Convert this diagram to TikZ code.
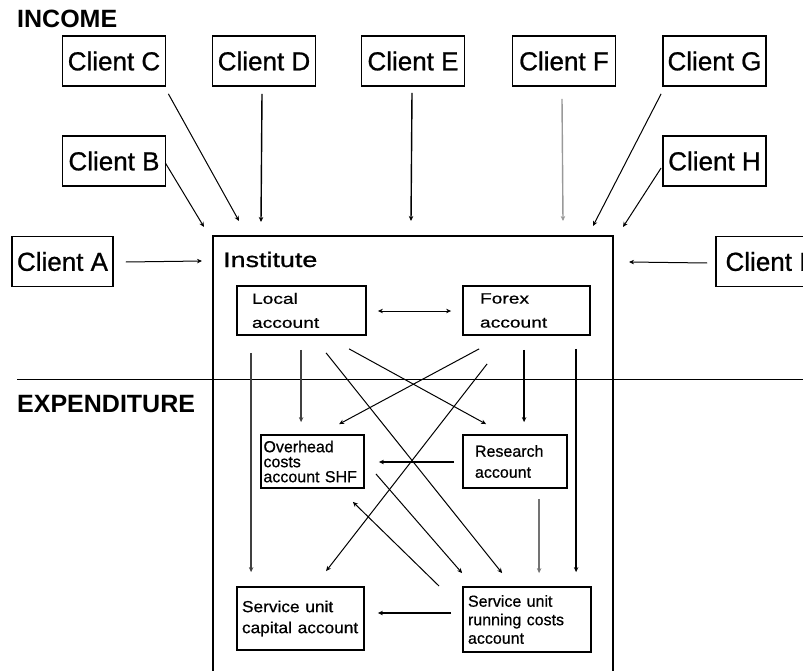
\documentclass[tikz,border=0pt]{standalone}
\usepackage{fontspec}
\setmainfont{Liberation Sans}
\newfontfamily\heavyfont{Liberation Sans}[FakeBold=0.9]
\newfontfamily\semiheavyfont{Liberation Sans}[FakeBold=0.6]
\usetikzlibrary{arrows.meta,calc}
\tikzset{
  client/.style={draw, line width=1.8pt, minimum width=103pt, minimum height=50pt,
    inner sep=0pt, font=\heavyfont\fontsize{26}{30}\selectfont},
  acct/.style={draw, line width=1.8pt, inner ysep=0pt, align=left},
  heading/.style={anchor=west, inner sep=0pt, font=\fontsize{25}{28}\selectfont\bfseries},
  arr/.style={-{Stealth[length=5pt,width=4.5pt]}, line width=1pt},
  arrthick/.style={arr, line width=1.8pt},
  arrmid/.style={arr, line width=1.4pt},
  biarr/.style={{Stealth[length=5pt,width=4.5pt]}-{Stealth[length=5pt,width=4.5pt]}, line width=1pt},
}
\newcommand{\wide}[1]{\scalebox{1.28}[1]{#1}}
\begin{document}
\begin{tikzpicture}[x=1pt,y=-1pt]
\clip (0,0) rectangle (803,671);

% section headings and divider
\node[heading] (income) at (17,19) {INCOME};
\node[heading] (expend) at (17,404.5) {EXPENDITURE};
\draw[line width=1pt] (17,379) -- (803,379);

% clients
\node[client] (C) at (114,61) {Client C};
\node[client] (D) at (264,61) {Client D};
\node[client] (E) at (413,61) {Client E};
\node[client] (F) at (564,61) {Client F};
\node[client] (G) at (714.5,61) {Client G};
\node[client] (B) at (114,161) {Client B};
\node[client] (H) at (714.5,161) {Client H};
\node[client, minimum width=101pt] (A) at (62.5,261.5) {Client A};
\node[client, minimum width=100pt] (I) at (766,261.5) {Client I};

% institute frame
\node[draw, line width=2pt, minimum width=400pt, minimum height=464pt, inner sep=0pt] (inst) at (413,468) {};
\node[anchor=west, inner sep=0pt, font=\heavyfont\fontsize{21}{25}\selectfont] (instlabel) at (223,259.5) {\wide{Institute}};

% accounts
\node[acct, minimum width=129pt, minimum height=49pt, text width=99pt, inner xsep=15pt,
      font=\semiheavyfont\fontsize{15}{24}\selectfont] (local) at (301.5,310.5) {\wide{Local}\\\wide{account}};
\node[acct, minimum width=127pt, minimum height=49pt, text width=93pt, inner xsep=17pt,
      font=\semiheavyfont\fontsize{15}{24}\selectfont] (forex) at (526.5,310.5) {\wide{Forex}\\\wide{account}};
\node[acct, minimum width=103pt, minimum height=53pt, text width=98pt, inner xsep=2.5pt,
      font=\semiheavyfont\fontsize{16}{15}\selectfont] (ovh) at (312.5,461.5) {Overhead\\costs\\account SHF};
\node[acct, minimum width=104pt, minimum height=53pt, text width=80pt, inner xsep=12pt,
      font=\semiheavyfont\fontsize{16}{21}\selectfont] (res) at (515,461.5) {Research\\account};
\node[acct, minimum width=127pt, minimum height=63pt, text width=117pt, inner xsep=5pt,
      font=\semiheavyfont\fontsize{16}{21}\selectfont] (cap) at (300.5,618.5) {\scalebox{1.08}[1]{Service unit}\\\scalebox{1.08}[1]{capital account}};
\node[acct, minimum width=128pt, minimum height=65pt, text width=118pt, inner xsep=5pt,
      font=\semiheavyfont\fontsize{16}{18.5}\selectfont] (run) at (527,619.5) {Service unit\\running costs\\account};

% income flows
\draw[arr] ($(A.east)+(12,0.5)$) -- ($(inst.north west)+(-10,26)$);
\draw[arr] ($(I.west)+(-8,1.5)$) -- ($(inst.north east)+(15,27)$);
\draw[arr] ($(B.east)+(-1,2)$) -- ($(inst.north west)+(-8,-8)$);
\draw[arr] ($(C.south east)+(2,7)$) -- ($(inst.north west)+(27,-14)$);
\draw[arrmid] ($(D.south)+(-2,7)$) -- ($(inst.north west)+(49,-13)$);
\draw[arrmid] ($(E.south)+(-1,6)$) -- ($(inst.north west)+(199,-14)$);
\draw[arrmid, draw=black!40, -{Stealth[length=5pt,width=4.5pt,fill=black!60]}] ($(F.south)+(-2,12)$) -- ($(inst.north east)+(-51,-14)$);
\draw[arr] ($(G.south west)+(-1,7)$) -- ($(inst.north east)+(-21,-9)$);
\draw[arr] ($(H.west)+(-1,7)$) -- ($(inst.north east)+(9,-8)$);

% transfers between accounts
\draw[biarr] ($(local.east)+(11,0.5)$) -- ($(forex.west)+(-11,0.5)$);
\draw[arrmid, draw=black!75] ($(local.south west)+(15,17)$) -- ($(cap.north west)+(15,-14)$);
\draw[arrmid, draw=black!75] ($(local.south west)+(65,14)$) -- ($(ovh.north west)+(41,-12)$);
\draw[arr] ($(local.south west)+(90,17)$) -- ($(run.north west)+(40,-13)$);
\draw[arr] ($(local.south west)+(113,13)$) -- ($(res.north west)+(24,-10)$);
\draw[arr] ($(forex.south west)+(17,13)$) -- ($(ovh.north west)+(79,-10)$);
\draw[arr] ($(forex.south west)+(25,28)$) -- ($(cap.north west)+(90,-15)$);
\draw[arrthick] ($(forex.south west)+(62,14)$) -- ($(res.north west)+(62,-12)$);
\draw[arrthick] ($(forex.south west)+(114,13)$) -- ($(run.north west)+(114,-14)$);
\draw[arrthick] ($(res.west)+(-8,0.5)$) -- ($(ovh.east)+(14,0.5)$);
\draw[arrmid, draw=black!55] ($(res.south west)+(77,10)$) -- ($(run.north west)+(77,-13)$);
\draw[arr] ($(ovh.south east)+(11,-15)$) -- ($(run.north west)+(0,-13)$);
\draw[arr] ($(run.north west)+(-23,0)$) -- ($(ovh.south east)+(-12,13)$);
\draw[arrthick] ($(run.west)+(-11,-6.5)$) -- ($(cap.east)+(13,-5.5)$);
\end{tikzpicture}
\end{document}
